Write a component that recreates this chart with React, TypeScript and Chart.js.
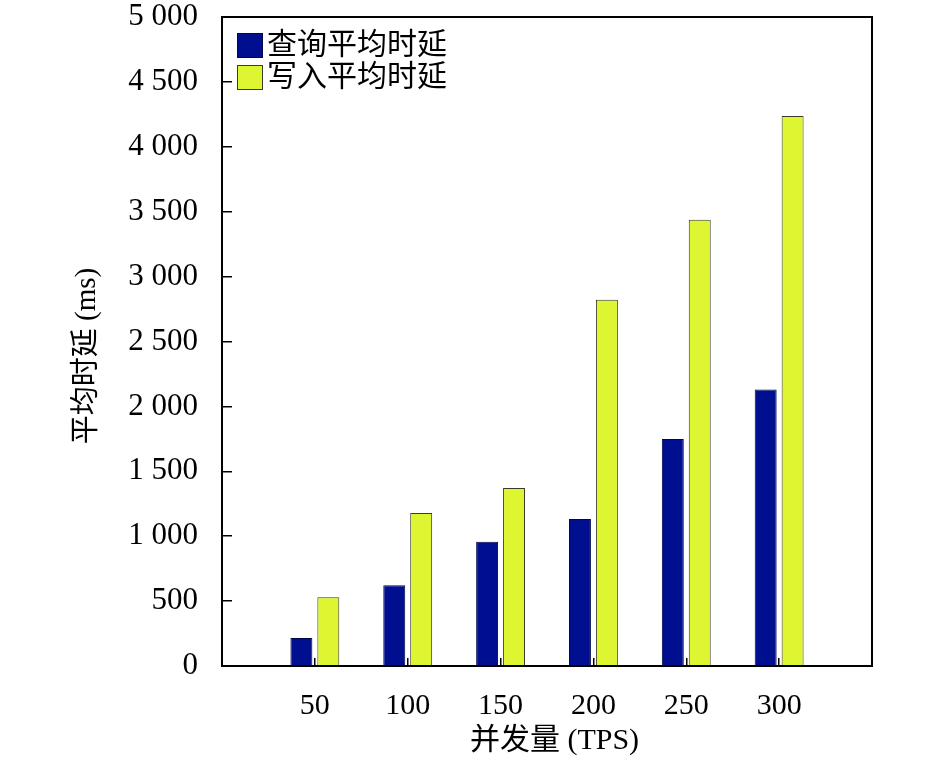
import { useEffect, useRef } from "react";
import { Chart, registerables } from "chart.js";
import type { Plugin } from "chart.js";

Chart.register(...registerables);

// slots 0 and 350 are left empty so the groups sit like the original axis
const concurrency = ["", "50", "100", "150", "200", "250", "300", ""];
const queryLatency = [null, 215, 622, 958, 1132, 1748, 2130, null];
const writeLatency = [null, 530, 1178, 1372, 2822, 3438, 4238, null];
const seriesNames = ["查询平均时延", "写入平均时延"];

const FONT = "'Liberation Serif', 'Noto Sans CJK SC', serif";

const fmt = (v: number) =>
  v >= 1000 ? `${Math.floor(v / 1000)} ${String(v % 1000).padStart(3, "0")}` : String(v);

// box around the plot + legend inside the top-left corner
const framePlugin: Plugin<"bar"> = {
  id: "frame",
  afterDraw(chart) {
    const { ctx, chartArea: a } = chart;
    ctx.save();
    ctx.strokeStyle = "#000";
    ctx.lineWidth = 2;
    ctx.strokeRect(a.left, a.top, a.right - a.left, a.bottom - a.top);

    ctx.font = `30px ${FONT}`;
    ctx.textBaseline = "middle";
    chart.data.datasets.forEach((ds, i) => {
      const x = a.left + 15;
      const y = a.top + 16 + i * 32;
      ctx.fillStyle = ds.backgroundColor as string;
      ctx.fillRect(x, y, 26, 25);
      ctx.lineWidth = 1;
      ctx.strokeStyle = ds.borderColor as string;
      ctx.strokeRect(x + 0.5, y + 0.5, 25, 24);
      ctx.fillStyle = "#000";
      ctx.fillText(ds.label ?? "", x + 30, y + 13);
    });
    ctx.restore();
  },
};

export default function App() {
  const canvasRef = useRef<HTMLCanvasElement>(null);

  useEffect(() => {
    if (!canvasRef.current) return;
    const chart = new Chart(canvasRef.current, {
      type: "bar",
      data: {
        labels: concurrency,
        datasets: [
          {
            label: seriesNames[0],
            data: queryLatency,
            backgroundColor: "#000f8f",
            borderColor: "#00084a",
            borderWidth: 1,
          },
          {
            label: seriesNames[1],
            data: writeLatency,
            backgroundColor: "#def532",
            borderColor: "#3c3a2c",
            borderWidth: 1,
          },
        ],
      },
      options: {
        animation: false,
        responsive: true,
        maintainAspectRatio: false,
        datasets: { bar: { categoryPercentage: 0.58, barPercentage: 0.815 } },
        layout: { padding: { top: 0, right: 73, left: 0, bottom: 0 } },
        plugins: { legend: { display: false }, tooltip: { enabled: false } },
        scales: {
          x: {
            offset: false,
            grid: {
              offset: false,
              drawOnChartArea: false,
              tickLength: -8,
              color: "#000",
              lineWidth: 1.5,
            },
            border: { color: "#000", width: 2 },
            ticks: {
              color: "#000",
              padding: 30,
              font: { family: FONT, size: 30 },
              maxRotation: 0,
              autoSkip: false,
            },
            title: {
              display: true,
              text: "  并发量 (TPS)",
              color: "#000",
              font: { family: FONT, size: 30 },
              padding: { top: 0, bottom: 2 },
            },
            afterFit: (s) => {
              s.height = 95;
            },
          },
          y: {
            min: 0,
            max: 5000,
            grid: {
              drawOnChartArea: false,
              tickLength: -10,
              color: "#000",
              lineWidth: 1.5,
            },
            border: { color: "#000", width: 2 },
            ticks: {
              stepSize: 500,
              color: "#000",
              padding: 34,
              font: { family: FONT, size: 31 },
              callback: (v) => fmt(Number(v)),
            },
            title: {
              display: true,
              text: "平均时延 (ms)    ",
              color: "#000",
              font: { family: FONT, size: 29 },
              padding: { top: 70, bottom: 0 },
            },
            afterFit: (s) => {
              s.width = 222;
              // tick padding would otherwise push the plot top down
              s.paddingTop = 17;
              s.paddingBottom = 17;
            },
          },
        },
      },
      plugins: [framePlugin],
    });
    return () => chart.destroy();
  }, []);

  return (
    <div style={{ position: "fixed", left: 0, top: 0, width: 945, height: 761, background: "#fff" }}>
      <canvas ref={canvasRef} />
    </div>
  );
}
